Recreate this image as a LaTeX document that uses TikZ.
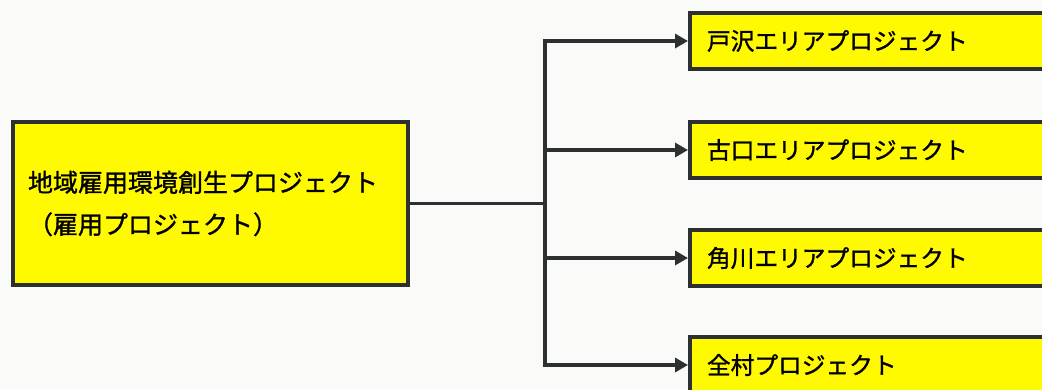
\documentclass[tikz,border=0pt]{standalone}
\usepackage{fontspec}
\newfontfamily\cjk[FakeBold=1.2]{Noto Sans CJK JP}
\usetikzlibrary{arrows.meta}
\definecolor{boxyellow}{RGB}{255,250,0}
\definecolor{edge}{RGB}{45,48,48}
\definecolor{paper}{RGB}{250,250,248}
\tikzset{
  mainbox/.style={draw=edge, line width=4pt, fill=boxyellow, rectangle,
    minimum width=395pt, minimum height=163pt, inner xsep=15pt,
    text width=365pt, align=left, font=\cjk\fontsize{25pt}{42pt}\selectfont},
  subbox/.style={draw=edge, line width=4pt, fill=boxyellow, rectangle, anchor=west,
    minimum width=372pt, minimum height=56pt, inner xsep=17pt,
    text width=338pt, align=left, font=\cjk\fontsize{23.7pt}{28pt}\selectfont},
  conn/.style={draw=edge, line width=3.8pt},
  arr/.style={conn, -{Triangle[length=13pt,width=14pt]}}
}
\begin{document}
\begin{tikzpicture}[x=1pt,y=-1pt]
\useasboundingbox (0,0) rectangle (1042,389);
\clip (0,0) rectangle (1042,389);
\fill[paper] (0,0) rectangle (1042,389);
\node[mainbox] (main) at (210.5,203.5) {地域雇用環境創生プロジェクト\\（雇用プロジェクト）};
\node[subbox] (p1) at (688,41) {戸沢エリアプロジェクト};
\node[subbox] (p2) at (688,150) {古口エリアプロジェクト};
\node[subbox] (p3) at (688,258) {角川エリアプロジェクト};
\node[subbox] (p4) at (688,365) {全村プロジェクト};
\coordinate (j) at (545,203.5);
\draw[conn] (main.east) -- (j);
\draw[conn, line cap=rect] (j |- p1.west) -- (j |- p4.west);
\foreach \n in {p1,p2,p3,p4}{
  \draw[arr] (j |- \n.west) -- (\n.west);
}
\end{tikzpicture}
\end{document}
